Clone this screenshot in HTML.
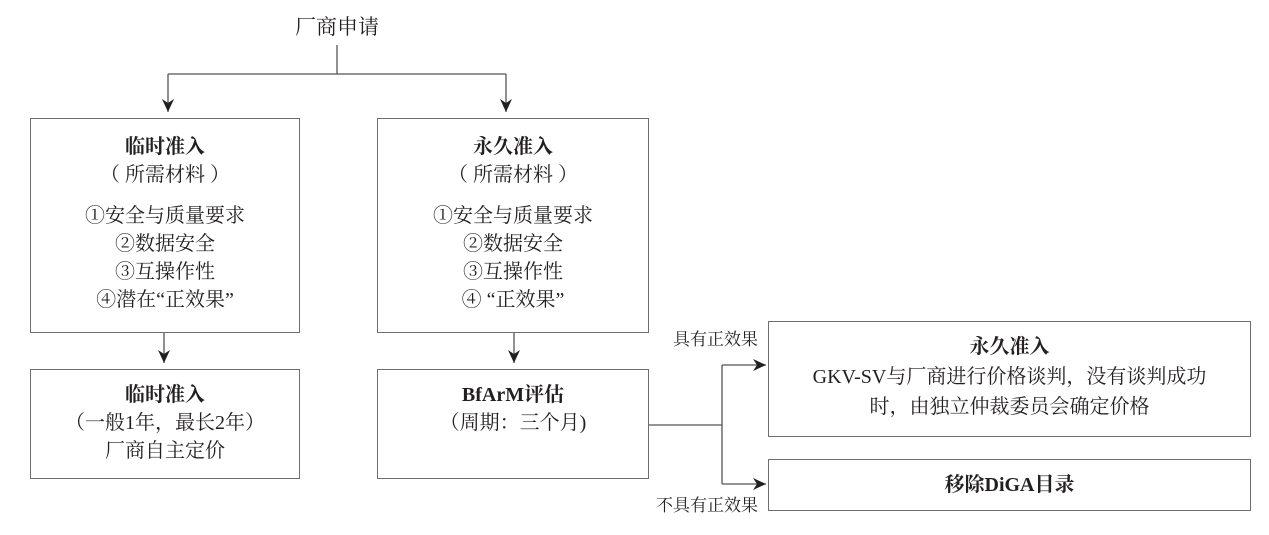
<!DOCTYPE html>
<html><head><meta charset="utf-8"><style>
body{margin:0;background:#fff;width:1269px;height:535px;position:relative;overflow:hidden;font-family:"Liberation Serif","Noto Serif CJK SC",serif;color:#231f20}
.b{position:absolute;border:1.5px solid #6d6d6d;box-sizing:border-box}
.t{position:absolute;text-align:center;font-size:20px;line-height:28px;white-space:nowrap}
.bold{font-weight:bold}
</style></head><body>
<svg width="1269" height="535" style="position:absolute;left:0;top:0">
<defs><marker id="a" markerWidth="14" markerHeight="14" refX="13" refY="6" orient="auto" markerUnits="userSpaceOnUse"><path d="M0,0 L13,6 L0,12 L4,6 Z" fill="#231f20"/></marker></defs>
<g stroke="#555" stroke-width="1.3" fill="none">
<path d="M337,45 V74 M168,74 H506"/>
<path d="M168,74 V112" marker-end="url(#a)"/>
<path d="M506,74 V112" marker-end="url(#a)"/>
<path d="M164,332 V363" marker-end="url(#a)"/>
<path d="M514,332 V363" marker-end="url(#a)"/>
<path d="M648,425 H722 M722,365 V484"/>
<path d="M722,365 H766" marker-end="url(#a)"/>
<path d="M722,484 H766" marker-end="url(#a)"/>
</g></svg>
<div class="t" style="left:287px;top:13px;width:100px;font-size:21px">厂商申请</div>
<div class="b" style="left:30px;top:118px;width:270px;height:215px"></div>
<div class="t" style="left:30px;top:133px;width:270px"><span class="bold">临时准入</span><br>（ 所需材料 ）<div style="height:13px"></div>①安全与质量要求<br>②数据安全<br>③互操作性<br>④潜在“正效果”</div>
<div class="b" style="left:377px;top:118px;width:272px;height:215px"></div>
<div class="t" style="left:377px;top:133px;width:272px"><span class="bold">永久准入</span><br>（ 所需材料 ）<div style="height:13px"></div>①安全与质量要求<br>②数据安全<br>③互操作性<br>④ “正效果”</div>
<div class="b" style="left:30px;top:369px;width:270px;height:110px"></div>
<div class="t" style="left:30px;top:381px;width:270px"><span class="bold">临时准入</span><br>（一般1年，最长2年）<br>厂商自主定价</div>
<div class="b" style="left:377px;top:369px;width:272px;height:110px"></div>
<div class="t" style="left:377px;top:381px;width:272px"><span class="bold">BfArM评估</span><br>（周期：三个月)</div>
<div class="b" style="left:768px;top:321px;width:483px;height:116px"></div>
<div class="t" style="left:768px;top:332px;width:483px;line-height:30px"><span class="bold">永久准入</span><br>GKV-SV与厂商进行价格谈判，没有谈判成功<br>时，由独立仲裁委员会确定价格</div>
<div class="b" style="left:768px;top:459px;width:483px;height:52px"></div>
<div class="t bold" style="left:768px;top:471px;width:483px">移除DiGA目录</div>
<div class="t" style="left:640px;top:326px;width:118px;text-align:right;font-size:17px">具有正效果</div>
<div class="t" style="left:620px;top:492px;width:138px;text-align:right;font-size:17px">不具有正效果</div>
</body></html>
